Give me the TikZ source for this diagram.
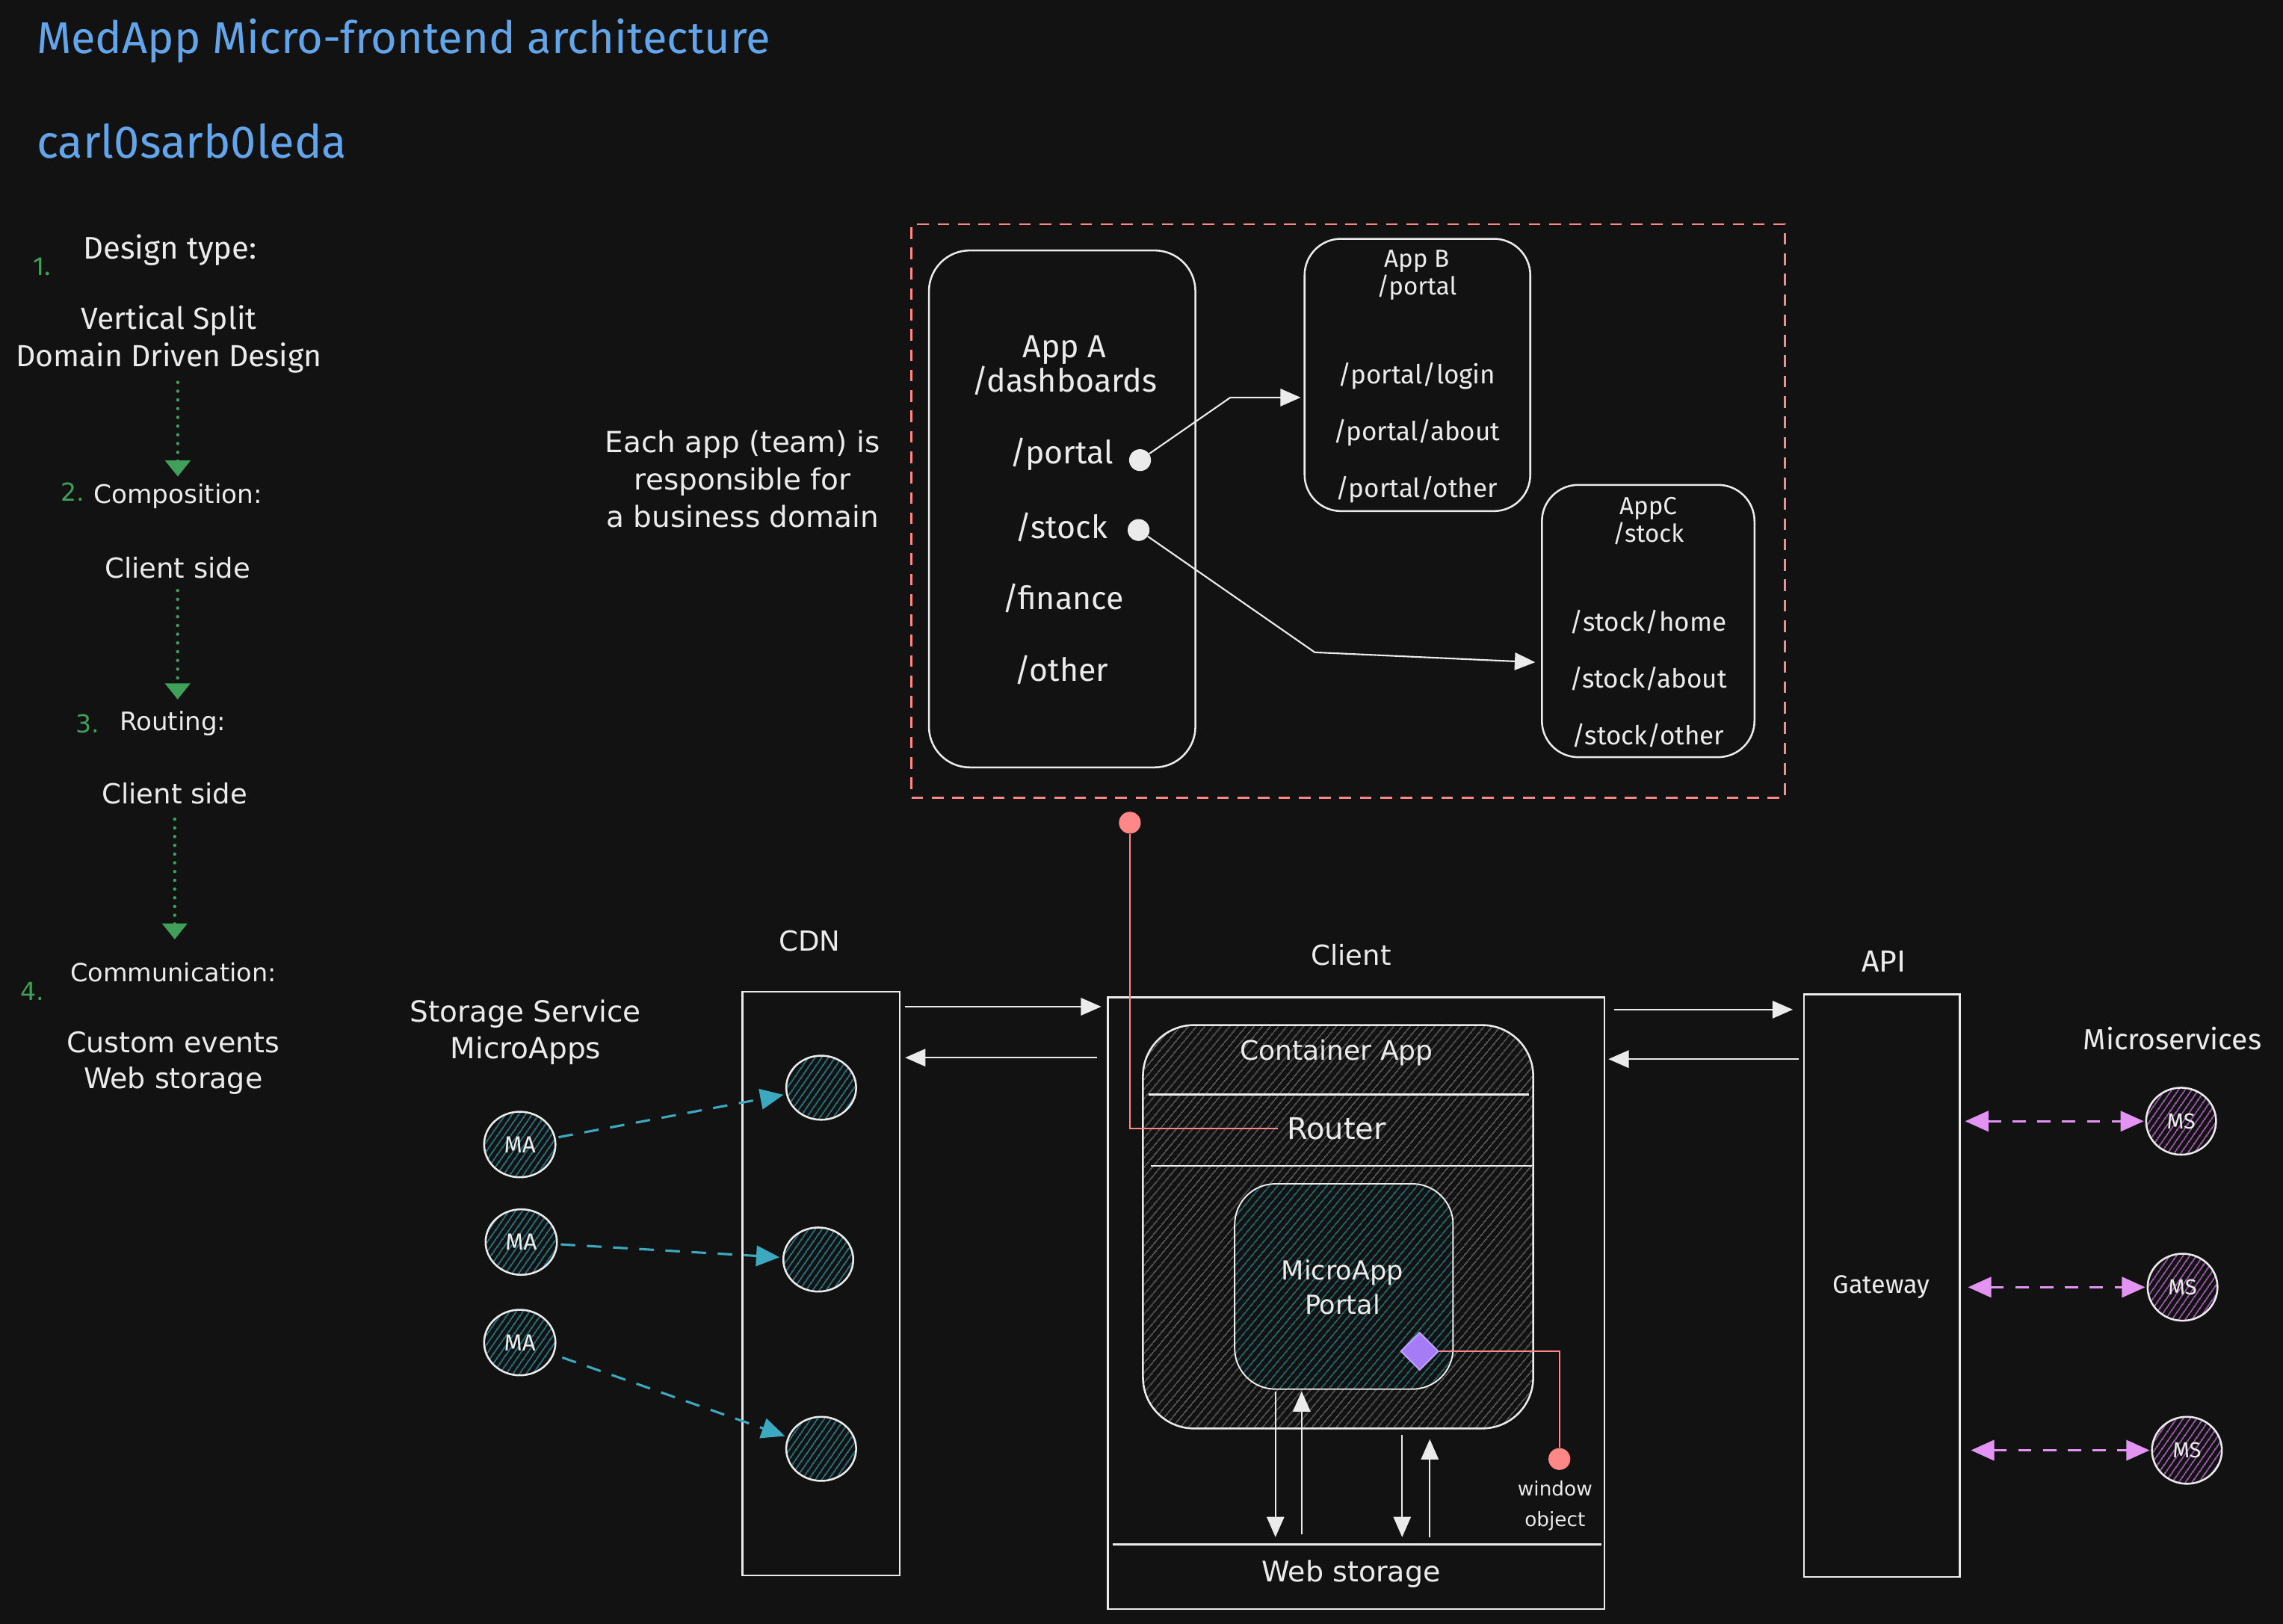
\documentclass[tikz,border=0pt]{standalone}
\usepackage{fontspec}
\setmainfont{Fira Sans}
\newfontfamily\wide{DejaVu Sans}
\usetikzlibrary{arrows.meta,patterns.meta,shapes.geometric,calc}
\definecolor{bg}{HTML}{121212}
\definecolor{fg}{HTML}{EBEBEB}
\definecolor{ttl}{HTML}{63A5EA}
\definecolor{grn}{HTML}{40A05A}
\definecolor{rd}{HTML}{FF8787}
\definecolor{tl}{HTML}{3DA9C0}
\definecolor{tlh}{HTML}{1F8A9C}
\definecolor{pu}{HTML}{E394F2}
\definecolor{puh}{HTML}{C062D4}
\definecolor{vi}{HTML}{A57CF6}
\definecolor{grh}{HTML}{404040}
\definecolor{tph}{HTML}{236C74}
\begin{document}
\begin{tikzpicture}[x=1pt,y=-1pt,
  fs/.style 2 args={font=\fontsize{#1}{#2}\selectfont,text=fg,inner sep=0pt,align=center},
  fw/.style 2 args={font=\wide\fontsize{#1}{#2}\selectfont,text=fg,inner sep=0pt,align=center},
  box/.style={draw=fg,line width=1.3pt,inner sep=0pt},
  rbox/.style={box,rounded corners=28pt},
  warr/.style={draw=fg,line width=1.1pt,-{Triangle[length=14pt,width=12pt]}},
  tarr/.style={draw=tl,line width=1.6pt,dash pattern=on 10pt off 8pt,-{Triangle[length=16pt,width=14pt]}},
  parr/.style={draw=pu,line width=1.6pt,dash pattern=on 9pt off 8pt,{Triangle[length=16pt,width=14pt]}-{Triangle[length=16pt,width=14pt]}},
  garr/.style={draw=grn,line width=2.3pt,line cap=round,dash pattern=on 0pt off 6pt,-{Triangle[length=11pt,width=17pt]}},
  blob/.style={ellipse,draw=fg,line width=1.3pt,inner sep=0pt,minimum width=49pt,minimum height=45pt,pattern={Lines[angle=55,distance=4pt,line width=0.8pt]},pattern color=#1,font=\fontsize{16}{18}\selectfont,text=fg},
  rlink/.style={draw=rd,line width=1.2pt},
  rdotst/.style={circle,fill=rd,inner sep=0pt,minimum size=15pt},
  wdotst/.style={circle,fill=fg,inner sep=0pt,minimum size=15pt}]
\fill[bg] (0,0) rectangle (1568,1115.3);
\useasboundingbox (0,0) rectangle (1568,1115.3);

% titles
\node[fs={30.6}{36},text=ttl,anchor=west] (title) at (25,28) {MedApp Micro-frontend architecture};
\node[fs={31.5}{36},text=ttl,anchor=west] (author) at (25,97) {carl0sarb0leda};

% left column
\node[fs={18}{22},text=grn] (n1) at (29,183) {1.};
\node[fs={21.5}{24},anchor=west] (dt) at (57,172) {Design type:};
\node[fs={21}{26}] (vs) at (116,233) {Vertical Split\\Domain Driven Design};
\node[fw={17}{20},text=grn] (n2) at (50,338) {2.};
\node[fw={17.6}{20},anchor=west] (comp) at (64,341) {Composition:};
\node[fw={19}{20}] (cs1) at (122,390) {Client side};
\node[fw={17}{20},text=grn] (n3) at (60,497) {3.};
\node[fw={17.5}{20},anchor=west] (rout) at (82,497) {Routing:};
\node[fw={19}{20}] (cs2) at (120,545) {Client side};
\node[fw={17}{20},text=grn] (n4) at (22,681) {4.};
\node[fw={17.2}{20}] (commu) at (119,668) {Communication:};
\node[fw={19.5}{25}] (ce) at (119,730) {Custom events\\Web storage};
\draw[garr,shorten <=6pt,shorten >=5pt] (vs.south -| comp.north) -- (comp.north);
\draw[garr,shorten <=8pt,shorten >=8pt] (cs1.south) -- (cs1.south |- rout.north);
\draw[garr,shorten <=10pt,shorten >=16pt] (cs2.south) -- (cs2.south |- commu.north);

% domain note
\node[fw={20}{25.5}] (each) at (510,329) {Each app (team) is\\responsible for\\a business domain};

% domain box
\node[draw=rd,line width=1.4pt,dash pattern=on 8pt off 6pt,minimum width=600pt,minimum height=394pt,inner sep=0pt] (dom) at (926,351) {};
\node[rbox,minimum width=183pt,minimum height=355pt] (appA) at (729.5,349.5) {};
\node[rbox,rounded corners=25pt,minimum width=155pt,minimum height=187pt] (appB) at (973.5,257.5) {};
\node[rbox,rounded corners=25pt,minimum width=146pt,minimum height=187pt] (appC) at (1132,426.5) {};

\node[fs={22}{24}] (aA) at (731,251) {App A\\/dashboards};
\node[fs={22}{24}] (pA) at (729,312) {/portal};
\node[fs={22}{24}] (sA) at (729,362) {/stock};
\node[fs={22}{24}] (fA) at (730,411) {/finance};
\node[fs={22}{24}] (oA) at (729,460) {/other};
\node[wdotst] (pdot) at (783,316) {};
\node[wdotst] (sdot) at (782,364) {};

\node[fs={17}{19}] (bT) at (973,189) {App B\\/portal};
\node[fs={18}{20}] (b1) at (973,258) {/portal/login};
\node[fs={18}{20}] (b2) at (973,297) {/portal/about};
\node[fs={18}{20}] (b3) at (973,336) {/portal/other};

\node[fs={17}{19}] (cT) at (1132,358) {AppC\\/stock};
\node[fs={18}{20}] (c1t) at (1132,427) {/stock/home};
\node[fs={18}{20}] (c2t) at (1132,466) {/stock/about};
\node[fs={18}{20}] (c3t) at (1132,505) {/stock/other};

\coordinate (pb) at (845,273);
\draw[warr,shorten >=2pt] (pdot) -- (pb) -- (pb -| appB.west);
\coordinate (sb) at (903,448);
\coordinate (sc) at ($(appC.west)+(0,28.5)$);
\draw[warr,shorten >=4pt] (sdot) -- (sb) -- (sc);

% red link to router
\node[rdotst] (rdot) at (776,565) {};

% CDN
\node[fw={19}{22}] (cdnl) at (556,646) {CDN};
\node[box,minimum width=108pt,minimum height=401pt] (cdn) at (564,881.5) {};
\node[blob=tlh,minimum width=48pt,minimum height=44pt] (cd1) at (564,747) {};
\node[blob=tlh,minimum width=48pt,minimum height=44pt] (cd2) at (562,865) {};
\node[blob=tlh,minimum width=48pt,minimum height=44pt] (cd3) at (564,995) {};

\node[fw={20}{25}] (ssl) at (361,709) {Storage Service\\MicroApps};
\node[blob=tlh] (ma1) at (357,786) {MA};
\node[blob=tlh] (ma2) at (358,853) {MA};
\node[blob=tlh] (ma3) at (357,922) {MA};
\draw[tarr,shorten <=2pt,shorten >=2pt] (ma1) -- (cd1);
\draw[tarr,shorten <=2pt,shorten >=2pt] (ma2) -- (cd2);
\draw[tarr,shorten <=6pt,shorten >=2pt] (ma3) -- (cd3);

% Client
\node[fw={19}{22}] (clientl) at (928,656) {Client};
\node[box,minimum width=341pt,minimum height=420pt] (client) at (931.5,895) {};
\node[box,rounded corners=35pt,minimum width=268pt,minimum height=277pt,pattern={Lines[angle=50,distance=4pt,line width=0.7pt]},pattern color=grh] (cont) at (919,842.5) {};
\node[fw={18.5}{22}] (contl) at (918,723) {Container App};
\draw[fg,line width=1.3pt] ($(cont.north west)+(4,48)$) -- ($(cont.north east)+(-3,48)$);
\draw[fg,line width=1.3pt] ($(cont.north west)+(6,97)$) -- ($(cont.north east)+(-1,97)$);
\node[fw={20.5}{22}] (router) at (918,775) {Router};
\draw[rlink] (rdot) |- ([xshift=-6pt]router.west);

\node[box,line width=1pt,rounded corners=28pt,minimum width=150pt,minimum height=141pt,preaction={fill=bg},pattern={Lines[angle=50,distance=4pt,line width=0.9pt]},pattern color=tph] (portal) at (923,883.5) {};
\node[fw={18}{24}] (portall) at (922,884) {MicroApp\\Portal};
\node[diamond,fill=vi,draw=vi!70!white,line width=1pt,inner sep=0pt,minimum size=26pt] (diam) at (975,928) {};
\node[rdotst] (wdot) at (1071,1002) {};
\node[fw={13.5}{21}] (wol) at (1068,1034) {window\\object};
\draw[rlink] (diam.east) -| (wdot.north);

\draw[fg,line width=1.3pt] ($(client.south west)+(4,-45)$) -- ($(client.south east)+(-3,-45)$);
\coordinate (ws) at ($(client.south)+(0,-45)$);
\node[fw={19.5}{22}] (wsl) at (928,1081) {Web storage};

\coordinate (a1) at ($(portal.south)+(-47,1)$);
\coordinate (a2) at ($(portal.south)+(-29,1)$);
\coordinate (a3) at ($(cont.south)+(44,4)$);
\coordinate (a4) at ($(cont.south)+(63,7)$);
\draw[warr,shorten >=5pt] (a1) -- (a1 |- ws);
\draw[warr,shorten <=7pt] (a2 |- ws) -- (a2);
\draw[warr,shorten >=5pt] (a3) -- (a3 |- ws);
\draw[warr,shorten <=5pt] (a4 |- ws) -- (a4);

% CDN <-> Client
\coordinate (k1) at ($(cdn.north east)+(3,11)$);
\coordinate (k2) at ($(cdn.north east)+(3,46)$);
\draw[warr,shorten >=4pt] (k1) -- (k1 -| client.west);
\draw[warr,shorten <=7pt] (k2 -| client.west) -- (k2);

% API
\node[fs={21}{24}] (apil) at (1294,660) {API};
\node[box,minimum width=107pt,minimum height=400pt] (api) at (1292.5,883) {};
\node[fs={17.5}{20}] (gw) at (1292,884) {Gateway};
\coordinate (k3) at ($(client.north east)+(6,9)$);
\coordinate (k4) at ($(client.north east)+(2,43)$);
\draw[warr,shorten >=7pt] (k3) -- (k3 -| api.west);
\draw[warr,shorten <=3pt] (k4 -| api.west) -- (k4);

% Microservices
\node[fs={20}{24}] (msl) at (1492,713) {Microservices};
\node[blob=puh,minimum width=48pt,minimum height=46pt,font=\fontsize{15}{17}\selectfont] (ms1) at (1498,770) {MS};
\node[blob=puh,minimum width=48pt,minimum height=46pt,font=\fontsize{15}{17}\selectfont] (ms2) at (1499,884) {MS};
\node[blob=puh,minimum width=48pt,minimum height=46pt,font=\fontsize{15}{17}\selectfont] (ms3) at (1502,996) {MS};
\draw[parr,shorten <=3pt,shorten >=1pt] (ms1.west -| api.east) -- (ms1.west);
\draw[parr,shorten <=5pt,shorten >=1pt] (ms2.west -| api.east) -- (ms2.west);
\draw[parr,shorten <=7pt,shorten >=1pt] (ms3.west -| api.east) -- (ms3.west);
\end{tikzpicture}
\end{document}
